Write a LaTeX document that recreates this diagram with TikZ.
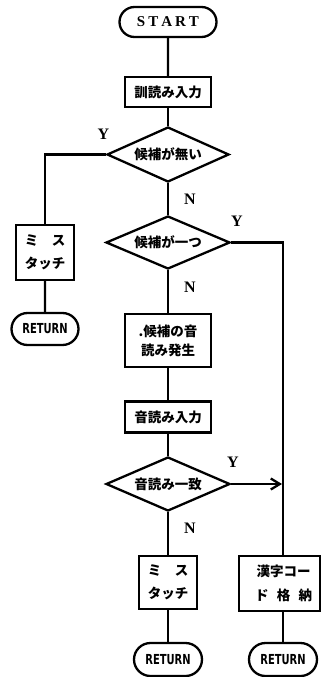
\documentclass[tikz,border=0pt]{standalone}
\usepackage{fontspec}
\newfontfamily\jp{Noto Sans CJK JP}
\newfontfamily\cond{DejaVu Sans Condensed}
\newfontfamily\lserif{Liberation Serif}
\usetikzlibrary{shapes.geometric,shapes.misc,arrows.meta}
\newcommand{\rettext}{\scalebox{0.92}[1.15]{RETURN}}
\begin{document}
\begin{tikzpicture}[x=1pt,y=-1pt,
  line width=2.3pt,
  proc/.style={draw,rectangle,inner sep=0pt,align=center,font=\jp\bfseries\fontsize{13.5}{22}\selectfont},
  dec/.style={draw,diamond,aspect=2.2,inner sep=0pt,font=\jp\bfseries\fontsize{13.5}{16}\selectfont},
  term/.style={draw,rounded rectangle,inner sep=0pt,minimum width=68pt,minimum height=32pt,font=\cond\bfseries\fontsize{12}{14}\selectfont},
  lab/.style={font=\lserif\bfseries\fontsize{16}{18}\selectfont,inner sep=0pt}
]
\useasboundingbox (0,0) rectangle (321,677);
% terminals and boxes
\node[term,minimum width=97pt,minimum height=30pt,font=\lserif\bfseries\fontsize{15}{17}\selectfont] (start) at (168,22) {S\hspace{3pt}T\hspace{3pt}A\hspace{3pt}R\hspace{3pt}T};
\node[proc,minimum width=86pt,minimum height=30pt] (b1) at (168,92) {訓読み入力};
\node[dec,minimum width=122pt,minimum height=55pt] (d1) at (168,154.5) {候補が無い};
\node[proc,minimum width=58pt,minimum height=55pt,font=\jp\bfseries\fontsize{13.5}{23}\selectfont] (mt1) at (45,252.5) {ミ　ス\\タッチ};
\node[term,minimum width=67pt] (r1) at (45,329) {\rettext};
\node[dec,minimum width=124pt,minimum height=53pt] (d2) at (168,242.5) {候補が一つ};
\node[proc,minimum width=86pt,minimum height=53pt,font=\jp\bfseries\fontsize{13.5}{19}\selectfont] (b2) at (168,340.5) {.候補の音\\読み発生};
\node[proc,minimum width=86pt,minimum height=31pt] (b3) at (168,417) {音読み入力};
\node[dec,minimum width=124pt,minimum height=54pt] (d3) at (168,484) {音読み一致};
\node[proc,minimum width=58pt,minimum height=53pt,font=\jp\bfseries\fontsize{13.5}{23}\selectfont] (mt2) at (168,582.5) {ミ　ス\\タッチ};
\node[term,minimum height=33pt] (r2) at (168,659.5) {\rettext};
\node[proc,minimum width=81pt,minimum height=55pt,font=\jp\bfseries\fontsize{13.5}{24}\selectfont] (kj) at (279.5,583.5) {\hspace*{8pt}漢字コー\\\hspace*{8pt}\makebox[57pt]{ド\hfill 格\hfill 納}};
\node[term,minimum height=33pt] (r3) at (283,659.5) {\rettext};
\coordinate (kt) at (283,556);
% labels
\node[lab] (y1) at (103.5,134) {Y};
\node[lab] (n1) at (190,199) {N};
\node[lab] (y2) at (237,221) {Y};
\node[lab] (n2) at (190,287) {N};
\node[lab] (y3) at (233,462) {Y};
\node[lab] (n3) at (190,528) {N};
% connectors
\draw (start) -- (b1);
\draw (b1) -- (d1);
\draw (d1) -- (d2);
\draw (d1.west) -| (mt1.north);
\draw (mt1) -- (r1);
\draw (d2) -- (b2);
\draw (b2) -- (b3);
\draw (b3) -- (d3);
\draw (d3) -- (mt2);
\draw (mt2) -- (r2);
\draw (d2.east) -| (kt);
\draw (kt |- kj.south) -- (r3.north);
\draw[-{Straight Barb[length=9pt,width=11pt]}] (d3.east) -- ([xshift=-1pt]d3.east -| kt);
\end{tikzpicture}
\end{document}
